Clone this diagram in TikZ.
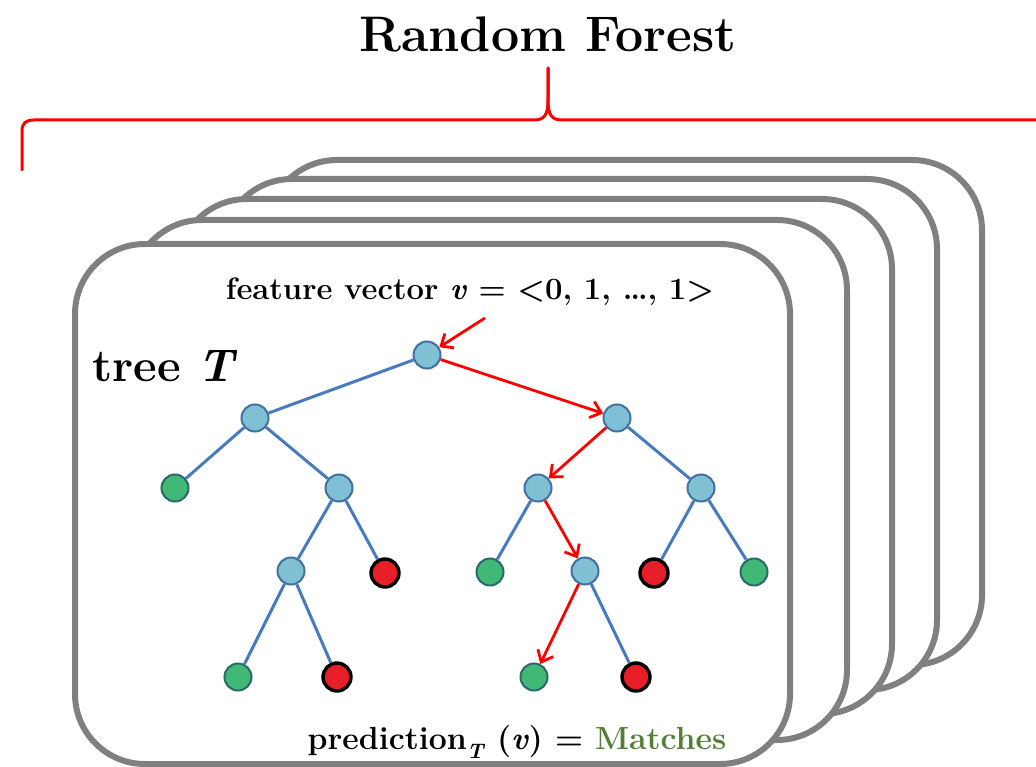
\documentclass[tikz,border=0pt]{standalone}
\usepackage{amsmath,amssymb}
\usepackage{xcolor}
\usepackage{tikz}
\usetikzlibrary{arrows.meta,positioning}

\definecolor{cardgray}{RGB}{128,128,128}
\definecolor{innerfill}{RGB}{128,192,212}
\definecolor{innerline}{RGB}{66,112,160}
\definecolor{edgeblue}{RGB}{72,122,192}
\definecolor{leafgreen}{RGB}{66,184,118}
\definecolor{leafline}{RGB}{40,106,110}
\definecolor{leafred}{RGB}{232,30,40}
\definecolor{matchgreen}{RGB}{82,128,52}

\newcommand{\vv}{\textit{v}}

\begin{document}
\begin{tikzpicture}[
        x=1pt, y=-1pt,
        card/.style={
            draw=cardgray, fill=white,
            line width=6pt, rounded corners=70pt
        },
        inner/.style={
            circle, draw=innerline, fill=innerfill,
            line width=2pt, minimum size=27pt, inner sep=0pt
        },
        yesleaf/.style={
            circle, draw=leafline, fill=leafgreen,
            line width=2pt, minimum size=27pt, inner sep=0pt
        },
        noleaf/.style={
            circle, draw=black, fill=leafred,
            line width=3.4pt, minimum size=28pt, inner sep=0pt
        },
        edge/.style={draw=edgeblue, line width=3pt},
        hit/.style={-{Straight Barb[length=10pt,width=17pt]}, red, line width=2.8pt},
        brace/.style={red, line width=3pt, line cap=round, line join=round},
        label/.style={inner sep=0pt, anchor=base}
    ]

    \useasboundingbox (0,0) rectangle (1036,767);

    % Title and brace
    \node[label, font=\fontsize{50}{58}\selectfont\bfseries] (title) at (548,52) {Random Forest};
    \draw[brace] (22,170) -- (22,131) .. controls (22,123) and (26,120) .. (34,120)
        -- (534,120) .. controls (545,120) and (548,114) .. (548,100) -- (548,68);
    \draw[brace] (548,68) -- (548,100) .. controls (548,114) and (551,120) .. (562,120)
        -- (1036,120);

    % Stack of trees, back to front
    \foreach \l/\t/\r/\b in {267/160/982/665, 222/179/937/690, 177/199/892/714,
                             132/220/847/740, 75/244/790/764}
        \draw[card] (\l,\t) rectangle (\r,\b);

    % Texts of the front tree
    \node[label, font=\fontsize{31}{36}\selectfont\bfseries] (fv) at (470,300)
        {feature vector \vv{} = <0, 1, \ldots, 1>};
    \node[label, anchor=base west, font=\fontsize{46}{54}\selectfont\bfseries] (tname) at (92,381)
        {tree \textit{T}};
    \node[label, font=\fontsize{32}{38}\selectfont\bfseries] (pred) at (517,749)
        {prediction\raisebox{-0.3em}{\fontsize{21}{21}\selectfont\textit{T}} (\vv) = \textcolor{matchgreen}{Matches}};

    % Tree nodes
    \node[inner] (root) at (427,355) {};
    \node[inner] (l) at (255,418) {};
    \node[inner] (r) at (617,418) {};
    \node[yesleaf] (ll) at (175,488) {};
    \node[inner] (lr) at (339,488) {};
    \node[inner] (rl) at (538,488) {};
    \node[inner] (rr) at (701,488) {};
    \node[inner] (lrl) at (291,571) {};
    \node[noleaf] (lrr) at (385,573) {};
    \node[yesleaf] (rll) at (490,572) {};
    \node[inner] (rlr) at (585,571) {};
    \node[noleaf] (rrl) at (654,573) {};
    \node[yesleaf] (rrr) at (754,572) {};
    \node[yesleaf] (lrll) at (238,677) {};
    \node[noleaf] (lrlr) at (337,677) {};
    \node[yesleaf] (rlrl) at (534,677) {};
    \node[noleaf] (rlrr) at (636,677) {};
    \coordinate (vin) at (485,318);

    % Branches
    \draw[edge] (root) -- (l);
    \draw[edge] (l) -- (ll);
    \draw[edge] (l) -- (lr);
    \draw[edge] (lr) -- (lrl);
    \draw[edge] (lr) -- (lrr);
    \draw[edge] (lrl) -- (lrll);
    \draw[edge] (lrl) -- (lrlr);
    \draw[edge] (r) -- (rr);
    \draw[edge] (rl) -- (rll);
    \draw[edge] (rr) -- (rrl);
    \draw[edge] (rr) -- (rrr);
    \draw[edge] (rlr) -- (rlrr);

    % Path of v
    \draw[hit] (vin) -- (root);
    \draw[hit] (root) -- (r);
    \draw[hit] (r) -- (rl);
    \draw[hit] (rl) -- (rlr);
    \draw[hit] (rlr) -- (rlrl);

\end{tikzpicture}
\end{document}
